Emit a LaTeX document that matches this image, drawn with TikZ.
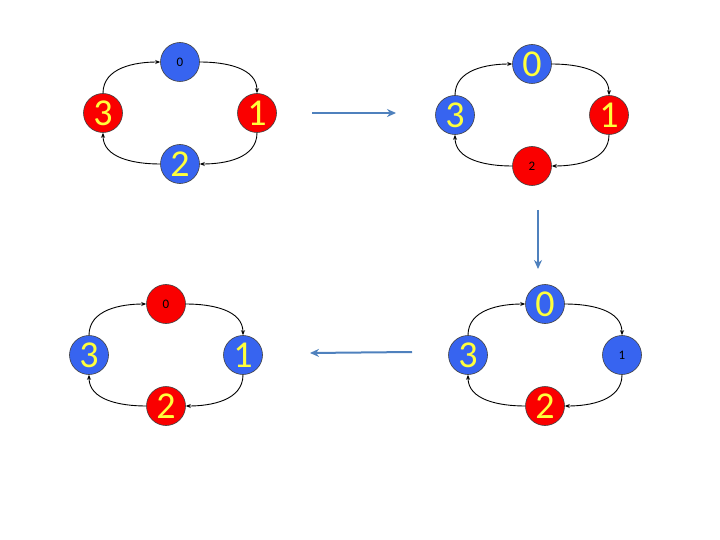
\documentclass[tikz,border=0pt]{standalone}
\usepackage{fontspec}
\setmainfont{Carlito}
\usetikzlibrary{arrows.meta}
\definecolor{nodeblue}{RGB}{55,100,240}
\definecolor{nodered}{RGB}{250,0,0}
\definecolor{numyellow}{RGB}{255,255,60}
\definecolor{steparrow}{RGB}{79,129,189}
\tikzset{
  pc/.style={circle,draw=black!75,line width=0.6pt,minimum size=39pt,inner sep=0pt},
  bb/.style={pc,fill=nodeblue,text=numyellow,font=\fontsize{38}{38}\selectfont},
  bs/.style={pc,fill=nodeblue,text=black,font=\fontsize{13}{13}\selectfont},
  rb/.style={pc,fill=nodered,text=numyellow,font=\fontsize{38}{38}\selectfont},
  rs/.style={pc,fill=nodered,text=black,font=\fontsize{13}{13}\selectfont},
  ring/.style={line width=0.9pt,-{Stealth[length=5pt,width=4pt]}},
  big/.style={steparrow,line width=2pt,-{Stealth[length=9pt,width=8pt]}}
}
\begin{document}
\begin{tikzpicture}[x=1pt,y=-1pt]
    \useasboundingbox (0,0) rectangle (720,540);
    % four rings, one per step
    \foreach \r/\cx/\cy/\sa/\sb/\sc/\sd in {a/180/113/bs/rb/bb/rb,
        b/532/115/bb/rb/rs/bb, c/166/355/rs/bb/rb/bb, d/545/355/bb/bs/rb/bb}
    {
        \node[\sa] (\r0) at (\cx,\cy-51) {0};
        \node[\sb] (\r1) at (\cx+77,\cy) {1};
        \node[\sc] (\r2) at (\cx,\cy+51) {2};
        \node[\sd] (\r3) at (\cx-77,\cy) {3};
        \draw[ring] (\r0.east) to[out=0,in=90] (\r1.north);
        \draw[ring] (\r1.south) to[out=-90,in=0] (\r2.east);
        \draw[ring] (\r2.west) to[out=180,in=-90] (\r3.south);
        \draw[ring] (\r3.north) to[out=90,in=180] (\r0.west);
    }
    % steps between rings
    \coordinate (s1) at (312,113);
    \coordinate (e1) at (396,113);
    \coordinate (s2) at (538,210);
    \coordinate (e2) at (538,269);
    \coordinate (s3) at (412,352);
    \coordinate (e3) at (310,353);
    \draw[big] (s1) -- (e1);
    \draw[big] (s2) -- (e2);
    \draw[big] (s3) -- (e3);
\end{tikzpicture}
\end{document}
